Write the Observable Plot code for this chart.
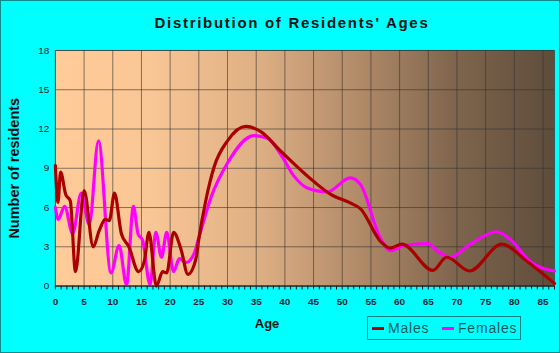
<!DOCTYPE html>
<html>
<head>
<meta charset="utf-8">
<script src="https://cdn.jsdelivr.net/npm/d3@7"></script>
<script src="https://cdn.jsdelivr.net/npm/@observablehq/plot@0.6"></script>
<style>
  html, body { margin: 0; padding: 0; }
  #wrap { position: relative; width: 558px; height: 351px; background: #00FFFF; border: 1px solid #108a8a; overflow: hidden; font-family: "Liberation Sans", Arial, sans-serif; }
  #title { position: absolute; top: 13px; left: 0; width: 582px; text-align: center; font-weight: bold; font-size: 15px; letter-spacing: 1.7px; color: #111; }
  #chart { position: absolute; top: 39px; left: -1px; }
  #legend { position: absolute; left: 366px; top: 315px; width: 152px; height: 22px; border: 1px solid #108080; font-size: 14px; letter-spacing: 0.8px; color: #0b5a5a; }
  .item { position: absolute; top: 3px; white-space: nowrap; }
  .sw { display: inline-block; width: 12px; height: 3px; vertical-align: middle; margin-right: 4px; position: relative; top: -1px; }
</style>
</head>
<body>
<div id="wrap">
  <div id="title">Distribution of Residents' Ages</div>
  <div id="chart"></div>
  <div id="legend">
    <span class="item" style="left:4px"><span class="sw" style="background:#AA0000"></span>Males</span>
    <span class="item" style="left:74px"><span class="sw" style="background:#FF00FF"></span>Females</span>
  </div>
</div>
<script>
const maleAges   = [0, 0.45, 0.9, 1.8, 2.6, 3.5, 5.0, 6.6, 7.6, 8.7, 9.4, 10.3, 11.5, 12.8, 14.5, 15.5, 16.3, 17.6, 18.7, 19.4, 20.6, 21.9, 23.1, 24.5, 25, 26.2, 27.7, 30, 33.2, 35.8, 39.3, 45, 48, 51.4, 53.2, 56.6, 58.4, 60.4, 65.8, 68.2, 72.2, 77.8, 82.2, 87];
const maleValues = [9.2, 6.4, 8.7, 7.0, 6.5, 1.1, 7.3, 3.0, 4.2, 5.1, 5.0, 7.1, 4.0, 3.0, 1.1, 1.9, 4.1, 0.0, 1.1, 1.0, 4.1, 2.8, 0.9, 2.1, 3.6, 6.5, 9.15, 11.1, 12.2, 11.8, 10.3, 8.0, 7.0, 6.35, 5.9, 3.45, 2.9, 3.2, 1.2, 2.2, 1.15, 3.2, 1.9, 0.2];
const femaleAges   = [0, 0.5, 1.6, 3.0, 4.5, 5.9, 7.5, 9.7, 11.1, 12.4, 13.6, 14.4, 15.2, 16.5, 17.5, 18.5, 19.4, 20.6, 21.6, 22.8, 24.2, 25, 27.1, 30, 34.6, 37, 39.3, 41.6, 43.9, 47.4, 51.4, 53.2, 56.6, 58.4, 60.7, 65, 66.5, 68.8, 72.3, 76.9, 79.3, 82.7, 87];
const femaleValues = [6.0, 5.1, 6.1, 4.0, 7.1, 4.7, 11.1, 1.0, 3.1, 0.1, 6.1, 4.0, 3.5, 0.1, 4.1, 2.2, 4.1, 1.1, 2.1, 1.8, 2.5, 3.7, 6.75, 9.4, 11.5, 11.3, 10.05, 8.4, 7.5, 7.2, 8.27, 7.75, 3.7, 2.7, 3.1, 3.25, 2.7, 2.2, 3.2, 4.15, 3.55, 1.9, 1.15];
const xTickLabels = [0, 5, 10, 15, 20, 25, 30, 35, 40, 45, 50, 55, 60, 65, 70, 75, 80, 85];
const yTickLabels = [0, 3, 6, 9, 12, 15, 18];

const males = maleAges.map((a, i) => ({age: a, value: maleValues[i]}));
const females = femaleAges.map((a, i) => ({age: a, value: femaleValues[i]}));
const minorTicks = d3.range(0, 88, 1);

const chart = Plot.plot({
  width: 560,
  height: 314,
  marginLeft: 55,
  marginRight: 5,
  marginTop: 10,
  marginBottom: 68,
  style: {background: "transparent", fontFamily: "Liberation Sans, Arial, sans-serif", overflow: "visible"},
  x: {domain: [0, 87]},
  y: {domain: [0, 18]},
  marks: [
    Plot.frame({fill: "url(#bggrad)", stroke: "none"}),
    Plot.gridX(xTickLabels, {stroke: "#333", strokeOpacity: 0.6, strokeWidth: 1}),
    Plot.gridY(yTickLabels, {stroke: "#333", strokeOpacity: 0.6, strokeWidth: 1}),
    Plot.frame({stroke: "#333", strokeOpacity: 0.6}),
    Plot.line(females, {x: "age", y: "value", stroke: "#FF00FF", strokeWidth: 3.2, curve: "monotone-x"}),
    Plot.line(males, {x: "age", y: "value", stroke: "#AA0000", strokeWidth: 3.2, curve: "monotone-x"}),
    Plot.ruleY([0], {stroke: "#222", strokeWidth: 1}),
    Plot.axisX(minorTicks, {tickSize: 4, tickFormat: () => "", stroke: "#222", label: null}),
    Plot.axisX(xTickLabels, {tickSize: 0, tickPadding: 12, fontSize: 10, fill: "#223", label: null, fontWeight: "bold", tickFormat: d => String(d)}),
    Plot.axisY(yTickLabels, {tickSize: 0, tickPadding: 6, fontSize: 10, fill: "#223", label: null, tickFormat: d => String(d)}),
    Plot.text(["Age"], {frameAnchor: "bottom", dy: 42, fontSize: 13, fontWeight: "bold", fill: "#111", dx: -38, letterSpacing: "1px"}),
    Plot.text(["Number of residents"], {frameAnchor: "left", rotate: -90, textAnchor: "middle", dx: -41, dy: 0, fontSize: 14.5, fontWeight: "bold", fill: "#111", letterSpacing: "0.5px"})
  ]
});

const defs = d3.create("svg:defs");
const grad = defs.append("linearGradient").attr("id", "bggrad").attr("x1", "0").attr("x2", "1").attr("y1", "0").attr("y2", "0");
[["0", "#FFCC99"], ["0.2", "#F8C594"], ["0.4", "#DFB085"], ["0.6", "#B38C6A"], ["0.8", "#7F654D"], ["1", "#5E4C3B"]]
  .forEach(([o, c]) => grad.append("stop").attr("offset", o).attr("stop-color", c));
chart.insertBefore(defs.node(), chart.firstChild);
document.getElementById("chart").appendChild(chart);
</script>
</body>
</html>
